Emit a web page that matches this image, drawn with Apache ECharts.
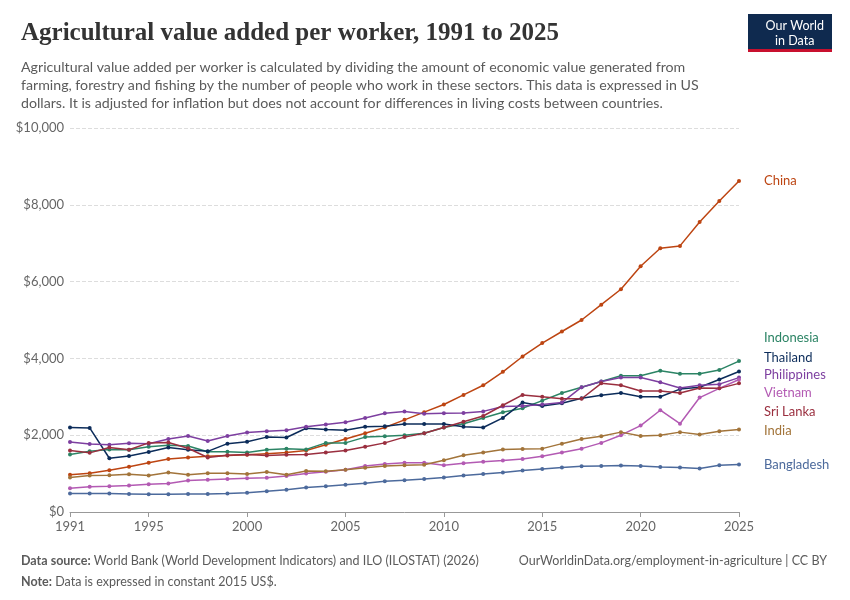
<!DOCTYPE html>
<html><head><meta charset="utf-8">
<script src="https://cdn.jsdelivr.net/npm/echarts@6/dist/echarts.min.js"></script>
<style>body{margin:0;background:#fff}#c{width:850px;height:600px}</style>
</head><body><div id="c"></div>
<script>
const years = Array.from({length:35},(_,i)=>1991+i);
const xTicks = [1991,1995,2000,2005,2010,2015,2020,2025];
const China=[967,1010,1090,1180,1280,1380,1420,1450,1470,1490,1520,1550,1600,1750,1900,2050,2200,2400,2600,2800,3050,3300,3650,4050,4400,4700,5000,5400,5800,6400,6870,6930,7550,8100,8620];
const Indonesia=[1500,1580,1630,1620,1700,1740,1720,1570,1570,1550,1620,1650,1630,1800,1800,1950,1970,2000,2050,2200,2300,2450,2600,2700,2900,3100,3250,3400,3550,3550,3680,3600,3600,3700,3930];
const Thailand=[2200,2190,1400,1460,1560,1680,1620,1580,1780,1830,1950,1940,2180,2150,2130,2220,2230,2290,2290,2290,2220,2200,2450,2850,2760,2830,2960,3040,3100,3000,3000,3200,3250,3450,3660];
const Philippines=[1820,1770,1750,1790,1780,1900,1980,1850,1980,2070,2100,2130,2220,2280,2340,2450,2570,2620,2560,2570,2580,2620,2750,2760,2800,2850,3250,3400,3500,3500,3380,3230,3300,3330,3500];
const Vietnam=[620,660,670,690,720,740,820,840,860,880,890,940,1000,1050,1100,1200,1250,1280,1280,1220,1270,1310,1340,1380,1450,1550,1650,1800,2000,2250,2650,2300,2980,3220,3450];
const SriLanka=[1600,1540,1680,1620,1800,1810,1660,1420,1480,1500,1470,1490,1500,1550,1600,1700,1800,1950,2050,2200,2350,2500,2780,3050,3000,2950,2950,3350,3300,3150,3150,3100,3230,3220,3350];
const India=[900,950,960,980,950,1030,970,1010,1010,990,1040,970,1070,1060,1100,1150,1200,1220,1230,1350,1480,1550,1630,1640,1650,1780,1900,1970,2080,1980,2000,2080,2020,2100,2150];
const Bangladesh=[480,480,480,470,460,460,470,470,480,500,540,580,640,670,710,750,800,830,860,900,950,990,1030,1080,1120,1160,1190,1200,1210,1200,1170,1160,1130,1220,1240];
const seriesDefs=[
 ['China',China,'#bd4512',0],['Indonesia',Indonesia,'#2c8465',-23],['Thailand',Thailand,'#0c2c5a',-14],
 ['Philippines',Philippines,'#7d3fa0',-3],['Vietnam',Vietnam,'#b35ab3',13],['Sri Lanka',SriLanka,'#9a2f3f',28],
 ['India',India,'#a2743a',1],['Bangladesh',Bangladesh,'#4c6a9c',0]];
const chart=echarts.init(document.getElementById('c'));
chart.setOption({
 animation:false,
 textStyle:{fontFamily:'Lato'},
 title:[{text:'Agricultural value added per worker, 1991 to 2025',left:16,top:16,textStyle:{fontFamily:'Liberation Serif',fontSize:25,fontWeight:'bold',color:'#333'}},
  {text:'Agricultural value added per worker is calculated by dividing the amount of economic value generated from\nfarming, forestry and fishing by the number of people who work in these sectors. This data is expressed in US\ndollars. It is adjusted for inflation but does not account for differences in living costs between countries.',left:16,top:53,textStyle:{fontFamily:'Lato',fontSize:14.2,fontWeight:'normal',color:'#5b5b5b',lineHeight:18}},
  {text:'{b|Data source:} World Bank (World Development Indicators) and ILO (ILOSTAT) (2026)',left:16,top:549,textStyle:{fontSize:12.5,color:'#5b5b5b',fontWeight:'normal',rich:{b:{fontWeight:'bold',fontSize:12.5,color:'#5b5b5b'}}}},
  {text:'OurWorldinData.org/employment-in-agriculture | CC BY',right:18,top:549,textStyle:{fontSize:12.5,color:'#5b5b5b',fontWeight:'normal'}},
  {text:'{b|Note:} Data is expressed in constant 2015 US$.',left:16,top:570,textStyle:{fontSize:12.5,color:'#5b5b5b',fontWeight:'normal',rich:{b:{fontWeight:'bold',fontSize:12.5,color:'#5b5b5b'}}}}],
 graphic:[{type:'rect',right:18,top:14,shape:{width:84,height:38},style:{fill:'#0f2a4f'}},
  {type:'rect',right:18,top:49,shape:{width:84,height:3},style:{fill:'#c8102e'}},
  {type:'text',right:26,top:18,style:{text:'Our World\nin Data',fill:'#fff',font:'12.5px Lato',textAlign:'center',lineHeight:15,x:42}}],
 grid:{left:70,right:111,top:128,bottom:88,containLabel:false},
 xAxis:{type:'value',min:1991,max:2025,
  axisLine:{show:true,lineStyle:{color:'#999'}},
  axisTick:{show:true,customValues:xTicks,lineStyle:{color:'#999'}},
  axisLabel:{customValues:xTicks,formatter:v=>String(v),color:'#666',fontSize:13,margin:8},splitLine:{show:false}},
 yAxis:{type:'value',min:0,max:10000,interval:2000,
  axisLabel:{formatter:v=>'$'+v.toLocaleString('en-US'),color:'#666',fontSize:13,margin:6},
  splitLine:{lineStyle:{type:'dashed',color:'#ddd'}},axisLine:{show:false},axisTick:{show:false}},
 series:seriesDefs.map(([n,d,c,off])=>({name:n,type:'line',data:d.map((v,i)=>[years[i],v]),
  color:c,symbol:'circle',symbolSize:4,lineStyle:{width:1.5},
  endLabel:{show:true,formatter:n,color:c,fontSize:13,offset:[17,off]}}))
});
</script></body></html>
